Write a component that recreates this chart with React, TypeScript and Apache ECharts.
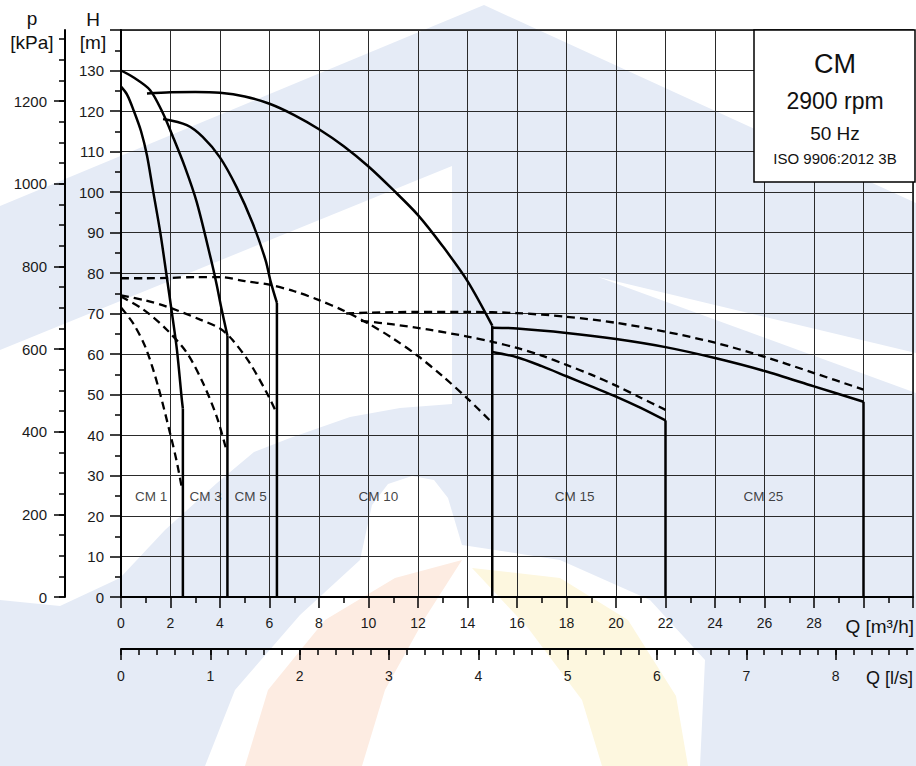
import { useEffect, useRef } from "react";
import * as echarts from "echarts";

const FONT = "Liberation Sans, Arial, sans-serif";

// ---- Layout of the plot frame (pixels) ----
const GRID_LEFT = 121;
const GRID_TOP = 30;
const GRID_RIGHT = 1;
const GRID_BOTTOM = 169;
const CHART_W = 916;
const CHART_H = 766;

// ---- Axis ranges / ticks ----
const qMaxM3h = 32;
const hMax = 140;
const kPaPerM = 9.8;
const pMax = hMax * kPaPerM; // 1372 kPa
const pMajorTop = 1200;
const pMinorTop = 1350;
const lpsMax = qMaxM3h / 3.6;
const lpsMajorTop = 8;
const lpsMinorTop = 8.8;

// ---- Head curves (solid) [Q m3/h, H m] ----
const cm1Head = [[0, 126], [0.25, 124], [0.52, 120], [0.81, 115], [1.05, 109], [1.27, 101.2], [1.59, 89.9], [1.85, 79], [2.04, 70.9], [2.26, 61], [2.46, 48.6], [2.5, 46.5]];
const cm3Head = [[0, 130], [0.48, 128.4], [1.17, 125.2], [1.69, 119.5], [2.1, 113.6], [2.58, 106.2], [3.06, 97.5], [3.63, 83.5], [3.87, 77], [4.05, 71.5], [4.3, 64.5]];
const cm5Head = [[1.7, 118], [2.66, 116.5], [3.3, 113.6], [3.99, 108.6], [4.67, 101.2], [5.32, 92.3], [5.84, 83.2], [6.05, 77.8], [6.3, 72.6]];
const cm10Head = [[1.05, 124.3], [2, 124.6], [3, 124.7], [4, 124.5], [5, 123.6], [6, 121.8], [7, 119], [8, 115.5], [9, 111.3], [10, 106.3], [11, 100.5], [12, 94.3], [13, 86.6], [14, 78], [15, 67]];
const cm15Head = [[15, 60.5], [16, 59.2], [17, 57], [18, 54.5], [19, 52], [20, 49.5], [21, 46.7], [22, 43.6]];
const cm25Head = [[15, 66.5], [16, 66.3], [18, 65.2], [20, 63.7], [22, 61.7], [24, 59], [26, 55.8], [28, 52], [30, 48.2]];

// ---- Dashed curves [Q m3/h, H m] ----
const cm1Dash = [[0, 71.5], [0.5, 67.5], [1, 61.5], [1.5, 52], [2, 40], [2.25, 33.5], [2.47, 26.5]];
const cm3Dash = [[0, 74.2], [0.9, 71], [1.85, 66], [2.66, 60.3], [3.3, 53], [3.87, 44.5], [4.27, 36]];
const cm5Dash = [[0, 74.5], [1, 73.2], [1.85, 71.7], [3.2, 68.5], [4, 66.3], [4.5, 63.5], [5.2, 57.8], [5.9, 50.3], [6.28, 45.5]];
const cm10Dash = [[0, 78.7], [1, 78.7], [2, 78.8], [3, 79], [4, 79], [5, 78], [6, 77.1], [7, 75.5], [8, 73.3], [9, 70.7], [10, 67.5], [11, 63.8], [12, 59.5], [13, 54.5], [14, 49], [15, 43]];
const cm15Dash = [[9.7, 68.2], [11, 67.3], [12.45, 66], [14, 64.3], [15, 63], [16, 61.5], [17, 59.6], [18, 57.3], [19, 54.9], [20, 52.2], [21, 49.2], [22, 46.2]];
const cm25Dash = [[9.1, 70], [10, 70.2], [12, 70.4], [14, 70.4], [16, 70.1], [18, 69.2], [20, 67.7], [22, 65.5], [24, 62.8], [26, 59.3], [28, 55.3], [30, 51.2]];

// ---- Cut-off verticals (Q, H top) ----
const cutoffQ = [2.5, 4.3, 6.3, 15, 22, 30];
const cutoffH = [46.5, 64.5, 72.6, 67, 43.6, 48.2];

// ---- Pump range labels ----
const pumpNames = ["CM 1", "CM 3", "CM 5", "CM 10", "CM 15", "CM 25"];
const pumpLabelQ = [1.22, 3.42, 5.24, 10.4, 18.33, 25.95];
const pumpLabelH = 24.7;

const boxLines = ["CM", "2900 rpm", "50 Hz", "ISO 9906:2012 3B"];

// ---- Faint background watermark (decorative shapes, page pixels) ----
const wmBlue = [[0, 206], [484, 5], [916, 203], [916, 766], [0, 766]];
const wmWhiteInner = [[0, 350], [452, 166], [452, 404], [400, 408], [350, 417], [290, 438], [254, 452], [217, 483], [165, 530], [120, 578], [60, 606], [0, 600]];
const wmWhiteWedge = [[598, 277], [916, 353], [916, 393]];
const wmWhiteFlower = [[372, 505], [388, 484], [412, 476], [434, 480], [448, 498], [462, 545], [560, 560], [650, 600], [705, 660], [700, 766], [205, 766], [235, 690], [300, 615], [360, 560]];
const wmOrange = [[245, 766], [268, 690], [325, 620], [395, 578], [462, 560], [425, 618], [385, 690], [362, 766]];
const wmYellow = [[472, 568], [560, 578], [628, 620], [676, 696], [688, 766], [602, 766], [582, 700], [528, 628]];

export default function App() {
  const ref = useRef<HTMLDivElement>(null);

  useEffect(() => {
    if (!ref.current) return;
    const chart = echarts.init(ref.current, null, { renderer: "svg" });

    const plotH = CHART_H - GRID_TOP - GRID_BOTTOM; // 567
    const plotW = CHART_W - GRID_LEFT - GRID_RIGHT; // 794
    const pxPerKPa = plotH / pMax;
    const pxPerLps = plotW / lpsMax;
    const baseY = CHART_H - GRID_BOTTOM;

    const solid = (data: number[][]) => ({
      type: "line",
      data,
      smooth: 0.3,
      symbol: "none",
      silent: true,
      z: 5,
      lineStyle: { color: "#000", width: 2.5 },
    });
    const dashed = (data: number[][]) => ({
      type: "line",
      data,
      smooth: 0.3,
      symbol: "none",
      silent: true,
      z: 5,
      lineStyle: { color: "#000", width: 2.3, type: [8, 5] },
    });
    const drops = cutoffQ.map((q, i) => ({
      type: "line",
      data: [[q, cutoffH[i]], [q, 0]],
      symbol: "none",
      silent: true,
      z: 5,
      lineStyle: { color: "#000", width: 2.5 },
    }));

    const axisLineStyle = { color: "#000", width: 2 };
    const tickStyle = { color: "#000", width: 1.5 };
    const labelBase = { color: "#1a1a1a", fontFamily: FONT };
    const hiddenX = (gridIndex: number) => ({ type: "value", gridIndex, show: false, min: 0, max: 1 });
    const hiddenY = (gridIndex: number) => ({ type: "value", gridIndex, show: false, min: 0, max: 1 });
    const wm = (pts: number[][], fill: string, z: number) => ({
      type: "polygon",
      silent: true,
      z,
      shape: { points: pts },
      style: { fill, stroke: "none" },
    });

    const option: any = {
      animation: false,
      backgroundColor: "#fff",
      grid: [
        { left: GRID_LEFT, top: GRID_TOP, right: GRID_RIGHT, bottom: GRID_BOTTOM, show: true, borderColor: "#000", borderWidth: 1.5, backgroundColor: "transparent" },
        { left: GRID_LEFT, right: GRID_RIGHT, top: baseY - pMajorTop * pxPerKPa, bottom: GRID_BOTTOM },
        { left: GRID_LEFT, right: GRID_RIGHT, top: baseY - pMinorTop * pxPerKPa, bottom: GRID_BOTTOM },
        { left: GRID_LEFT, width: lpsMajorTop * pxPerLps, top: GRID_TOP, bottom: GRID_BOTTOM },
        { left: GRID_LEFT, width: lpsMinorTop * pxPerLps, top: GRID_TOP, bottom: GRID_BOTTOM },
      ],
      xAxis: [
        {
          type: "value",
          gridIndex: 0,
          min: 0,
          max: qMaxM3h,
          interval: 2,
          position: "bottom",
          axisLine: { onZero: false, lineStyle: axisLineStyle },
          axisTick: { length: 11, lineStyle: tickStyle },
          minorTick: { show: true, splitNumber: 2, length: 6, lineStyle: tickStyle },
          splitLine: { show: true, lineStyle: { color: "#2a2a2a", width: 1 } },
          axisLabel: {
            ...labelBase,
            fontSize: 14,
            margin: 19,
            formatter: (v: number) => (v <= 28 ? String(v) : ""),
          },
        },
        {
          type: "value",
          gridIndex: 0,
          min: 0,
          max: lpsMax,
          position: "bottom",
          offset: 52,
          axisLine: { onZero: false, lineStyle: axisLineStyle },
          axisTick: { show: false },
          axisLabel: { show: false },
          splitLine: { show: false },
        },
        hiddenX(1),
        hiddenX(2),
        {
          type: "value",
          gridIndex: 3,
          min: 0,
          max: lpsMajorTop,
          interval: 1,
          position: "bottom",
          offset: 52,
          axisLine: { show: false, onZero: false },
          axisTick: { show: true, length: 11, lineStyle: tickStyle },
          axisLabel: { ...labelBase, fontSize: 14, margin: 20 },
          splitLine: { show: false },
        },
        {
          type: "value",
          gridIndex: 4,
          min: 0,
          max: lpsMinorTop,
          interval: 0.2,
          position: "bottom",
          offset: 52,
          axisLine: { show: false, onZero: false },
          axisTick: { show: true, length: 6, lineStyle: tickStyle },
          axisLabel: { show: false },
          splitLine: { show: false },
        },
      ],
      yAxis: [
        {
          type: "value",
          gridIndex: 0,
          min: 0,
          max: hMax,
          interval: 10,
          position: "left",
          axisLine: { show: true, onZero: false, lineStyle: axisLineStyle },
          axisTick: { show: true, length: 11, lineStyle: tickStyle },
          minorTick: { show: true, splitNumber: 2, length: 6, lineStyle: tickStyle },
          splitLine: { show: true, lineStyle: { color: "#2a2a2a", width: 1 } },
          axisLabel: {
            ...labelBase,
            fontSize: 15,
            margin: 17,
            formatter: (v: number) => (v <= 130 ? String(v) : ""),
          },
        },
        {
          type: "value",
          gridIndex: 0,
          min: 0,
          max: pMax,
          position: "left",
          offset: 56,
          axisLine: { show: true, onZero: false, lineStyle: axisLineStyle },
          axisTick: { show: false },
          axisLabel: { show: false },
          splitLine: { show: false },
        },
        {
          type: "value",
          gridIndex: 1,
          min: 0,
          max: pMajorTop,
          interval: 200,
          position: "left",
          offset: 56,
          axisLine: { show: false, onZero: false },
          axisTick: { show: true, length: 11, lineStyle: tickStyle },
          axisLabel: { ...labelBase, fontSize: 15, margin: 18, formatter: (v: number) => String(v) },
          splitLine: { show: false },
        },
        {
          type: "value",
          gridIndex: 2,
          min: 0,
          max: pMinorTop,
          interval: 50,
          position: "left",
          offset: 56,
          axisLine: { show: false, onZero: false },
          axisTick: { show: true, length: 6, lineStyle: tickStyle },
          axisLabel: { show: false },
          splitLine: { show: false },
        },
        hiddenY(3),
        hiddenY(4),
      ],
      series: [
        solid(cm1Head),
        solid(cm3Head),
        solid(cm5Head),
        solid(cm10Head),
        solid(cm15Head),
        solid(cm25Head),
        dashed(cm1Dash),
        dashed(cm3Dash),
        dashed(cm5Dash),
        dashed(cm10Dash),
        dashed(cm15Dash),
        dashed(cm25Dash),
        ...drops,
        {
          type: "scatter",
          data: pumpNames.map((n, i) => [pumpLabelQ[i], pumpLabelH, n]),
          symbolSize: 2,
          itemStyle: { color: "transparent" },
          silent: true,
          z: 6,
          label: {
            show: true,
            position: "inside",
            formatter: (p: any) => p.value[2],
            color: "#111",
            fontFamily: FONT,
            fontSize: 13.5,
          },
        },
      ],
      graphic: [
        wm(wmBlue, "#e5ebf6", -20),
        wm(wmWhiteInner, "#ffffff", -19),
        wm(wmWhiteWedge, "#ffffff", -19),
        wm(wmWhiteFlower, "#ffffff", -19),
        wm(wmOrange, "#fdece2", -18),
        wm(wmYellow, "#fdf7df", -18),
        {
          type: "rect",
          shape: { x: 754, y: 30, width: 161, height: 152 },
          style: { fill: "#fff", stroke: "#000", lineWidth: 1.5 },
          z: 10,
        },
        { type: "text", x: 835, y: 64, z: 11, style: { text: boxLines[0], font: `27px ${FONT}`, fill: "#111", textAlign: "center", textVerticalAlign: "middle" } },
        { type: "text", x: 835, y: 101, z: 11, style: { text: boxLines[1], font: `23px ${FONT}`, fill: "#111", textAlign: "center", textVerticalAlign: "middle" } },
        { type: "text", x: 835, y: 133, z: 11, style: { text: boxLines[2], font: `19px ${FONT}`, fill: "#111", textAlign: "center", textVerticalAlign: "middle" } },
        { type: "text", x: 835, y: 158, z: 11, style: { text: boxLines[3], font: `15px ${FONT}`, fill: "#111", textAlign: "center", textVerticalAlign: "middle" } },
        { type: "text", x: 32, y: 18, z: 11, style: { text: "p", font: `19px ${FONT}`, fill: "#111", textAlign: "center", textVerticalAlign: "middle" } },
        { type: "text", x: 32, y: 42, z: 11, style: { text: "[kPa]", font: `19px ${FONT}`, fill: "#111", textAlign: "center", textVerticalAlign: "middle" } },
        { type: "text", x: 93, y: 19, z: 11, style: { text: "H", font: `19px ${FONT}`, fill: "#111", textAlign: "center", textVerticalAlign: "middle" } },
        { type: "text", x: 93, y: 42, z: 11, style: { text: "[m]", font: `19px ${FONT}`, fill: "#111", textAlign: "center", textVerticalAlign: "middle" } },
        { type: "text", x: 914, y: 626, z: 11, style: { text: "Q [m³/h]", font: `19px ${FONT}`, fill: "#111", textAlign: "right", textVerticalAlign: "middle" } },
        { type: "text", x: 913, y: 678, z: 11, style: { text: "Q [l/s]", font: `18px ${FONT}`, fill: "#111", textAlign: "right", textVerticalAlign: "middle" } },
      ],
    };

    chart.setOption(option);
    return () => chart.dispose();
  }, []);

  return (
    <div
      ref={ref}
      style={{ position: "fixed", left: 0, top: 0, width: CHART_W, height: CHART_H, background: "#fff" }}
    />
  );
}
